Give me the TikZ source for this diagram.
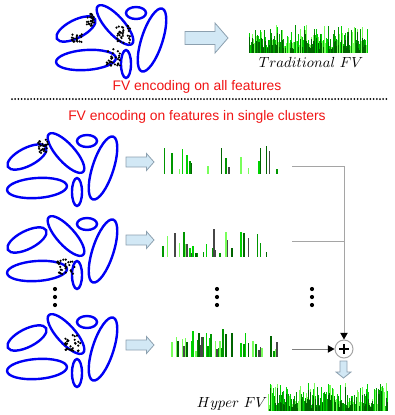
\documentclass[tikz,border=0pt]{standalone}
\usepackage{fontspec}
\newfontfamily\arialf{Liberation Sans}
\usetikzlibrary{arrows.meta}
\definecolor{bc1}{RGB}{0,100,0}
\definecolor{bc2}{RGB}{0,150,0}
\definecolor{bc3}{RGB}{0,210,0}
\definecolor{bc4}{RGB}{120,255,90}
\definecolor{bc5}{RGB}{70,70,70}
\definecolor{arrfill}{RGB}{210,232,245}
\definecolor{arrline}{RGB}{140,160,175}
\definecolor{ttred}{RGB}{240,20,20}
\definecolor{ellblue}{RGB}{0,0,245}
\definecolor{conngray}{RGB}{165,165,165}
\tikzset{
  ell/.style={draw=ellblue, line width=1.8pt},
  barr/.style={fill=arrfill, draw=arrline, line width=0.6pt},
  redtext/.style={text=ttred, font=\arialf\fontsize{10.4}{12}\selectfont, inner sep=0pt},
  lbl/.style={font=\fontsize{11}{13}\selectfont, inner sep=0pt},
  conn/.style={draw=conngray, line width=0.75pt},
  tip/.style={-{Triangle[color=black,length=5pt,width=5.5pt]}},
  plusc/.style={circle, draw=conngray, fill=white, line width=0.75pt, minimum size=13.5pt, inner sep=0pt},
}
% ellipse group, origin at (#1,#2)
\newcommand\ellgroup[2]{%
 \begin{scope}[shift={(#1,#2)}]
  \draw[ell, rotate around={27:(27,24)}] (27,24) ellipse [x radius=21.5, y radius=9];
  \draw[ell, rotate around={-48:(66,20)}] (66,20) ellipse [x radius=25.5, y radius=9];
  \draw[ell] (87,8) ellipse [x radius=10, y radius=6];
  \draw[ell, rotate around={72:(103,35)}] (103,35) ellipse [x radius=33, y radius=10.5];
  \draw[ell, rotate around={4:(37,55)}] (37,55) ellipse [x radius=30, y radius=10];
  \draw[ell] (77,59) ellipse [x radius=5, y radius=14];
 \end{scope}}
% dot cluster
\newcommand\dcluster[6]{%
 \pgfmathsetseed{#6}%
 \foreach \k in {1,...,#5}{%
   \pgfmathsetmacro\dx{#3*rand}\pgfmathsetmacro\dy{#4*rand}%
   \fill[black] ({#1+\dx},{#2+\dy}) circle (1.2);}}
% horizontal block arrow: x0,x1,yc,shafthalf,headhalf,headlen
\newcommand\harrow[6]{%
 \draw[barr] (#1,#3-#4) -- (#2-#6,#3-#4) -- (#2-#6,#3-#5) -- (#2,#3) -- (#2-#6,#3+#5) -- (#2-#6,#3+#4) -- (#1,#3+#4) -- cycle;}
% dense bars: x0, n, baseline, minh, maxh, seed
\newcommand\densebars[6]{%
 \pgfmathsetseed{#6}%
 \foreach \i in {0,...,#2}{%
   \pgfmathsetmacro\hh{#4+rnd*(#5-#4)}%
   \pgfmathrandominteger{\cc}{2}{4}%
   \fill[fill=bc\cc] (#1+\i,#3) rectangle (#1+\i+1,#3-\hh);
   \pgfmathsetmacro\hd{\hh*(0.3+0.6*rnd)}%
   \pgfmathrandominteger{\cd}{1}{5}%
   \ifnum\cd<4 \fill[fill=bc1] (#1+\i,#3) rectangle (#1+\i+1,#3-\hd);\fi
 }}
% sparse bars: x0, n, baseline, minh, maxh, prob, seed
\newcommand\sparsebars[7]{%
 \pgfmathsetseed{#7}%
 \foreach \i in {0,...,#2}{%
   \pgfmathsetmacro\pp{rnd}%
   \ifdim\pp pt<#6pt
     \pgfmathsetmacro\hh{#4+rnd*(#5-#4)}%
     \pgfmathrandominteger{\cc}{1}{5}%
     \fill[fill=bc\cc] (#1+\i*1.5,#3) rectangle (#1+\i*1.5+1.5,#3-\hh);
   \fi
 }}
\begin{document}
\begin{tikzpicture}[x=0.75pt,y=-0.75pt]
\useasboundingbox (0,0) rectangle (395,415);

% ---- top part
\ellgroup{49}{5}
\dcluster{90}{20}{4}{7}{24}{11}
\dcluster{76}{38}{6}{4}{18}{12}
\dcluster{123}{34}{7}{9}{32}{13}
\dcluster{113}{57}{7}{9}{30}{14}
\harrow{185}{228}{38}{6.5}{15}{13}
\densebars{249}{118}{53}{6}{28}{21}
\node[lbl] (trad) at (311,62) {$Traditional\ FV$};
\node[redtext] (t1) at (197,87) {FV encoding on all features};
\coordinate (dl) at (12,99);
\coordinate (dr) at (388,99);
\draw[line width=1.5pt, line cap=round, dash pattern=on 0pt off 2.4pt] (dl) -- (dr);
\node[redtext] (t2) at (197,117) {FV encoding on features in single clusters};

% ---- rows
\ellgroup{0}{133}
\dcluster{43}{146}{5}{7}{26}{31}
\harrow{126}{154}{162}{5}{8.5}{7.5}
\sparsebars{162}{80}{174}{4}{30}{0.3}{41}

\ellgroup{0}{216}
\dcluster{66}{267}{9}{8}{28}{32}
\harrow{126}{154}{240}{5}{8.5}{7.5}
\sparsebars{162}{70}{257}{3}{28}{0.35}{42}

\ellgroup{0}{314}
\dcluster{73}{343}{8}{8}{30}{33}
\harrow{126}{154}{345}{5}{8.5}{7.5}
\sparsebars{162}{76}{357}{5}{29}{0.55}{43}

% vertical ellipsis dots
\foreach \xx in {55,217,312}{
  \foreach \yy in {289,297,305}{\fill[black] (\xx,\yy) circle (2.1);}}

% ---- connectors
\coordinate (c1) at (292,166);
\coordinate (c2) at (292,241);
\coordinate (c3) at (292,349);
\node[plusc] (plus) at (344,349) {};
\draw[line width=1.4pt] ([xshift=-3.6pt]plus.center) -- ([xshift=3.6pt]plus.center);
\draw[line width=1.4pt] ([yshift=-3.6pt]plus.center) -- ([yshift=3.6pt]plus.center);
\draw[conn, tip] (c1) -| (plus.north);
\draw[conn] (c2) -- (c2 -| plus);
\draw[conn, draw=gray, tip] (c3) -- (plus.west);

% down arrow
\draw[barr] (340,361) -- (347,361) -- (347,372) -- (351,372) -- (343.5,378) -- (336,372) -- (340,372) -- cycle;

% hyper FV
\densebars{268}{119}{411}{5}{28}{51}
\node[lbl] (hyper) at (232,404) {$Hyper\ FV$};
\end{tikzpicture}
\end{document}
